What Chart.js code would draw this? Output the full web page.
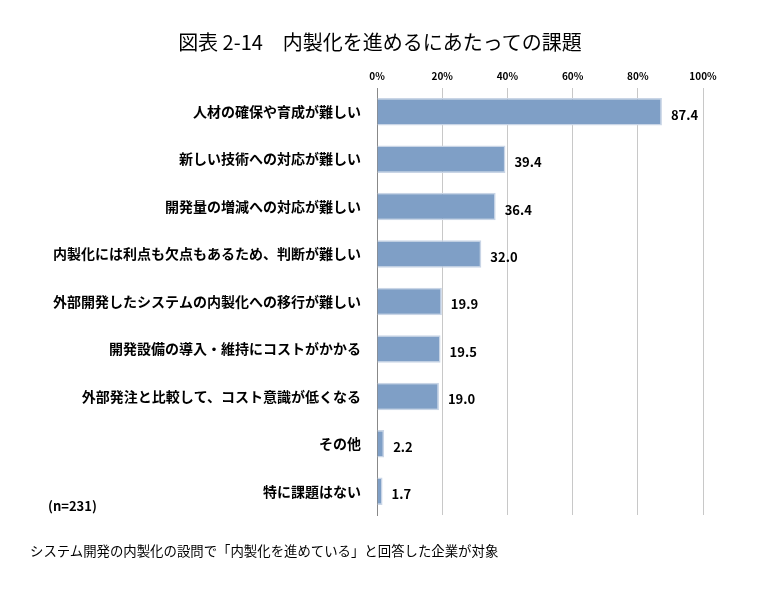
<!DOCTYPE html>
<html><head><meta charset="utf-8">
<script src="https://cdn.jsdelivr.net/npm/chart.js@4"></script>
<style>
html,body{margin:0;padding:0;background:#fff;}
#wrap{position:relative;width:760px;height:613px;}
.t{position:absolute;font-family:"Noto Sans CJK JP";color:#000;white-space:nowrap;}
</style></head><body>
<div id="wrap">
<canvas id="c" width="760" height="613"></canvas>
<div class="t" style="left:0;width:760px;text-align:center;top:27px;font-size:20px;">図表 2-14　内製化を進めるにあたっての課題</div>
<div class="t" style="left:48px;top:496px;font-size:13px;font-weight:bold;">(n=231)</div>
<div class="t" style="left:30px;top:540px;font-size:13.4px;">システム開発の内製化の設問で「内製化を進めている」と回答した企業が対象</div>
</div>
<script>
const categories=["人材の確保や育成が難しい","新しい技術への対応が難しい","開発量の増減への対応が難しい","内製化には利点も欠点もあるため、判断が難しい","外部開発したシステムの内製化への移行が難しい","開発設備の導入・維持にコストがかかる","外部発注と比較して、コスト意識が低くなる","その他","特に課題はない"];
const values=[87.4,39.4,36.4,32.0,19.9,19.5,19.0,2.2,1.7];
const tickLabels=["0%","20%","40%","60%","80%","100%"];
const font='"Noto Sans CJK JP"';
const labelPlugin={id:'vl',afterDatasetsDraw(ch){const ctx=ch.ctx;const m=ch.getDatasetMeta(0);ctx.save();ctx.font='bold 13px '+font;ctx.fillStyle='#000';ctx.textBaseline='middle';m.data.forEach((b,i)=>{ctx.fillText(values[i].toFixed(1),b.x+9,b.y+3);});ctx.restore();}};
new Chart(document.getElementById('c'),{type:'bar',
data:{labels:categories,datasets:[{data:values,backgroundColor:'#7f9fc6',borderColor:'#c9d5e6',borderWidth:1.5,barPercentage:0.58,categoryPercentage:1}]},
options:{indexAxis:'y',responsive:false,animation:false,
layout:{padding:{left:0,right:57,top:64,bottom:98}},
plugins:{legend:{display:false},tooltip:{enabled:false}},
scales:{x:{position:'top',min:0,max:100,ticks:{stepSize:20,callback:(v,i)=>tickLabels[i],font:{family:font,size:10,weight:'bold'},color:'#000',padding:6},grid:{color:'#c8c8c8',drawTicks:false},border:{display:false}},
y:{ticks:{font:{family:font,size:14,weight:'bold'},color:'#000',padding:8},grid:{display:false},border:{color:'#888',width:1},afterFit(s){s.width=377;}}}},
plugins:[labelPlugin]});
</script></body></html>
